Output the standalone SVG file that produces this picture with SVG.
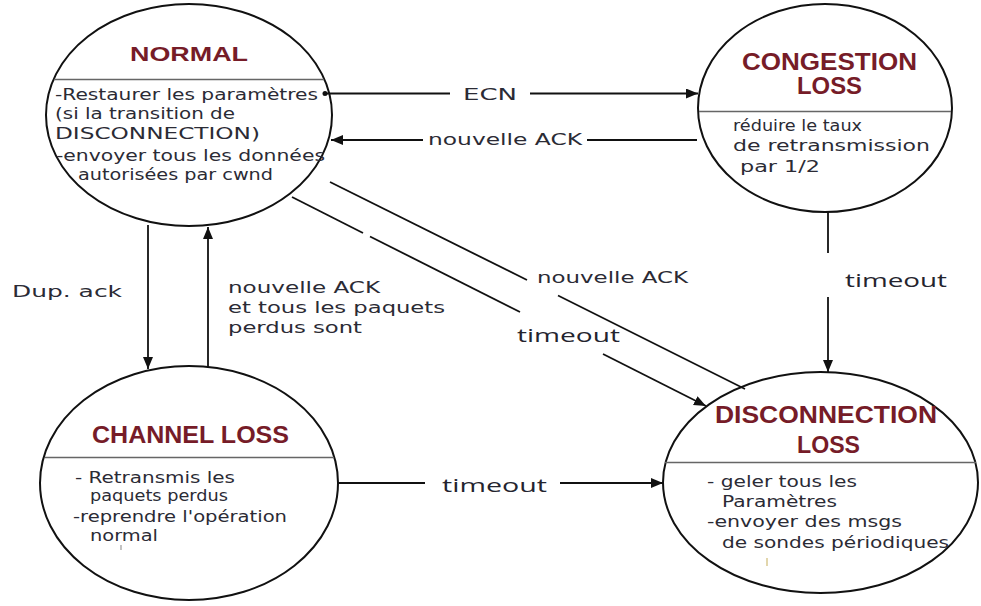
<svg xmlns="http://www.w3.org/2000/svg" width="981" height="606" viewBox="0 0 981 606">
  <style>
    .state { fill: #ffffff; stroke: #111111; stroke-width: 2; }
    .divider { stroke: #666666; stroke-width: 1.5; fill: none; }
    .title { font-family: "Liberation Sans", Arial, sans-serif; font-weight: bold; fill: #761c28; }
    .body { font-family: "DejaVu Sans", Verdana, sans-serif; font-size: 16px; fill: #2b2b35; }
    .label { font-family: "DejaVu Sans", Verdana, sans-serif; font-size: 16px; fill: #2b2b35; }
    .tlabel { font-family: "Open Sans", "Liberation Sans", sans-serif; font-size: 19px; fill: #24242e; }
    .edge { stroke: #111111; stroke-width: 1.8; fill: none; }
    .speck { stroke: #9a9a9a; stroke-width: 1.2; }
  </style>
  <defs>
    <marker id="arrow" markerUnits="userSpaceOnUse" markerWidth="13" markerHeight="11" refX="12" refY="5" orient="auto">
      <path d="M0,0 L12,5 L0,10 Z" fill="#111111"/>
    </marker>
  </defs>

  <rect width="981" height="606" fill="#ffffff"/>

  <!-- state: NORMAL -->
  <g id="normal">
    <ellipse class="state" cx="189" cy="115" rx="143" ry="111"/>
    <line class="divider" x1="54" y1="79.5" x2="324" y2="79.5"/>
    <text class="title" x="130" y="61" font-size="20" textLength="118" lengthAdjust="spacingAndGlyphs">NORMAL</text>
    <text class="body" x="55" y="100" textLength="263" lengthAdjust="spacingAndGlyphs">-Restaurer les paramètres</text>
    <text class="body" x="55" y="119" textLength="180" lengthAdjust="spacingAndGlyphs">(si la transition de</text>
    <text class="body" x="55" y="138.5" font-size="15.5" textLength="205" lengthAdjust="spacingAndGlyphs">DISCONNECTION)</text>
    <text class="body" x="56" y="161" textLength="269" lengthAdjust="spacingAndGlyphs">-envoyer tous les données</text>
    <text class="body" x="78" y="180" textLength="195" lengthAdjust="spacingAndGlyphs">autorisées par cwnd</text>
  </g>

  <!-- state: CONGESTION LOSS -->
  <g id="congestion-loss">
    <ellipse class="state" cx="825" cy="108" rx="127" ry="104"/>
    <line class="divider" x1="699" y1="111.5" x2="951" y2="111.5"/>
    <text class="title" x="742" y="70" font-size="23" textLength="175" lengthAdjust="spacingAndGlyphs">CONGESTION</text>
    <text class="title" x="797" y="94" font-size="23" textLength="65" lengthAdjust="spacingAndGlyphs">LOSS</text>
    <text class="body" x="733" y="131" textLength="129" lengthAdjust="spacingAndGlyphs">réduire le taux</text>
    <text class="body" x="733" y="151" textLength="197" lengthAdjust="spacingAndGlyphs">de retransmission</text>
    <text class="body" x="740" y="172" textLength="80" lengthAdjust="spacingAndGlyphs">par 1/2</text>
  </g>

  <!-- state: CHANNEL LOSS -->
  <g id="channel-loss">
    <ellipse class="state" cx="189" cy="483" rx="149" ry="117"/>
    <line class="divider" x1="45" y1="457.5" x2="334" y2="457.5"/>
    <text class="title" x="92" y="443" font-size="24" textLength="197" lengthAdjust="spacingAndGlyphs">CHANNEL LOSS</text>
    <text class="body" x="75" y="483" textLength="160" lengthAdjust="spacingAndGlyphs">- Retransmis les</text>
    <text class="body" x="90" y="501" textLength="138" lengthAdjust="spacingAndGlyphs">paquets perdus</text>
    <text class="body" x="73" y="522" textLength="214" lengthAdjust="spacingAndGlyphs">-reprendre l'opération</text>
    <text class="body" x="90" y="541" textLength="68" lengthAdjust="spacingAndGlyphs">normal</text>
    <line class="speck" x1="121" y1="545" x2="121" y2="550"/>
  </g>

  <!-- state: DISCONNECTION LOSS -->
  <g id="disconnection-loss">
    <ellipse class="state" cx="820.5" cy="482.5" rx="157.5" ry="110.5"/>
    <line class="divider" x1="665" y1="462.5" x2="976" y2="462.5"/>
    <text class="title" x="715" y="423" font-size="23" textLength="222" lengthAdjust="spacingAndGlyphs">DISCONNECTION</text>
    <text class="title" x="797" y="453" font-size="23" textLength="63" lengthAdjust="spacingAndGlyphs">LOSS</text>
    <text class="body" x="707" y="487" textLength="150" lengthAdjust="spacingAndGlyphs">- geler tous les</text>
    <text class="body" x="722" y="507" textLength="115" lengthAdjust="spacingAndGlyphs">Paramètres</text>
    <text class="body" x="707" y="527" textLength="195" lengthAdjust="spacingAndGlyphs">-envoyer des msgs</text>
    <text class="body" x="722" y="548" textLength="227" lengthAdjust="spacingAndGlyphs">de sondes périodiques</text>
    <line x1="767" y1="558" x2="767" y2="566" stroke="#d8c890" stroke-width="1.5"/>
  </g>

  <!-- transitions -->
  <g id="connectors">
    <!-- NORMAL -> CONGESTION : ECN -->
    <circle cx="325" cy="93.5" r="2.5" fill="#111111"/>
    <line class="edge" x1="325" y1="93.5" x2="450" y2="93.5"/>
    <line class="edge" x1="530" y1="93.5" x2="698" y2="93.5" marker-end="url(#arrow)"/>
    <text class="label" x="463" y="100" font-size="18" textLength="54" lengthAdjust="spacingAndGlyphs">ECN</text>

    <!-- CONGESTION -> NORMAL : nouvelle ACK -->
    <line class="edge" x1="697" y1="140" x2="587" y2="140"/>
    <line class="edge" x1="423" y1="140" x2="331" y2="140" marker-end="url(#arrow)"/>
    <text class="label" x="428" y="145" textLength="154" lengthAdjust="spacingAndGlyphs">nouvelle ACK</text>

    <!-- NORMAL -> CHANNEL : Dup. ack -->
    <line class="edge" x1="148" y1="225" x2="148" y2="369" marker-end="url(#arrow)"/>
    <text class="label" x="12" y="297" font-size="19" textLength="110" lengthAdjust="spacingAndGlyphs">Dup. ack</text>

    <!-- CHANNEL -> NORMAL : nouvelle ACK et tous les paquets perdus sont -->
    <line class="edge" x1="208" y1="367" x2="208" y2="227" marker-end="url(#arrow)"/>
    <text class="label" x="228" y="293" textLength="152" lengthAdjust="spacingAndGlyphs">nouvelle ACK</text>
    <text class="label" x="228" y="313" textLength="217" lengthAdjust="spacingAndGlyphs">et tous les paquets</text>
    <text class="label" x="228" y="333" textLength="134" lengthAdjust="spacingAndGlyphs">perdus sont</text>

    <!-- DISCONNECTION - NORMAL : nouvelle ACK -->
    <line class="edge" x1="330" y1="182" x2="527" y2="280"/>
    <line class="edge" x1="558" y1="295.5" x2="745" y2="389"/>
    <text class="label" x="537" y="283" textLength="151" lengthAdjust="spacingAndGlyphs">nouvelle ACK</text>

    <!-- NORMAL -> DISCONNECTION : timeout -->
    <line class="edge" x1="292" y1="197" x2="363" y2="233"/>
    <line class="edge" x1="370" y1="236.5" x2="520" y2="312"/>
    <line class="edge" x1="603" y1="354" x2="706" y2="406" marker-end="url(#arrow)"/>
    <text class="tlabel" x="517" y="342" textLength="103" lengthAdjust="spacingAndGlyphs">timeout</text>

    <!-- CONGESTION -> DISCONNECTION : timeout -->
    <line class="edge" x1="828" y1="212" x2="828" y2="253"/>
    <line class="edge" x1="828" y1="297" x2="828" y2="372" marker-end="url(#arrow)"/>
    <text class="tlabel" x="845" y="287" textLength="102" lengthAdjust="spacingAndGlyphs">timeout</text>

    <!-- CHANNEL -> DISCONNECTION : timeout -->
    <line class="edge" x1="338" y1="483" x2="425" y2="483"/>
    <line class="edge" x1="560" y1="483" x2="663" y2="483" marker-end="url(#arrow)"/>
    <text class="tlabel" x="442" y="492" textLength="105" lengthAdjust="spacingAndGlyphs">timeout</text>
  </g>
</svg>
